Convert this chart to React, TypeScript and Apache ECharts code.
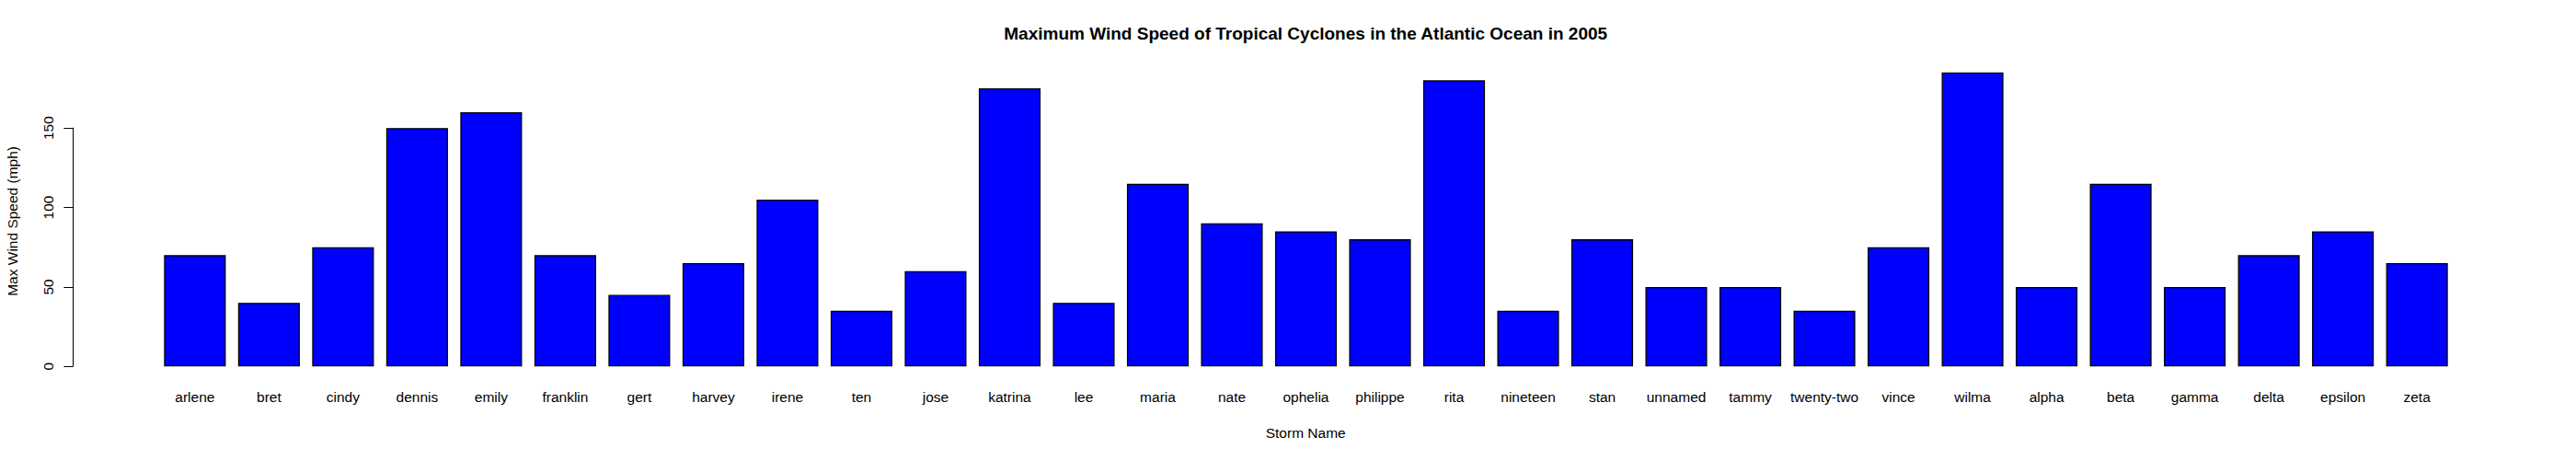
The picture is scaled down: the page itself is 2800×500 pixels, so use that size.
import React, { useEffect, useRef } from "react";
import * as echarts from "echarts";

const storms = [
  "arlene", "bret", "cindy", "dennis", "emily", "franklin", "gert", "harvey",
  "irene", "ten", "jose", "katrina", "lee", "maria", "nate", "ophelia",
  "philippe", "rita", "nineteen", "stan", "unnamed", "tammy", "twenty-two",
  "vince", "wilma", "alpha", "beta", "gamma", "delta", "epsilon", "zeta",
];
const maxWind = [
  70, 40, 75, 150, 160, 70, 45, 65, 105, 35, 60, 175, 40, 115, 90, 85, 80,
  180, 35, 80, 50, 50, 35, 75, 185, 50, 115, 50, 70, 85, 65,
];
const yTicks = [0, 50, 100, 150];

const titleText = "Maximum Wind Speed of Tropical Cyclones in the Atlantic Ocean in 2005";
const xTitle = "Storm Name";
const yTitle = "Max Wind Speed (mph)";

export default function App() {
  const ref = useRef<HTMLDivElement>(null);
  useEffect(() => {
    const chart = echarts.init(ref.current!, null, { renderer: "svg" });
    const font = "'Liberation Sans', Arial, Helvetica, sans-serif";
    const fs = 15.5;
    chart.setOption({
      animation: false,
      backgroundColor: "#ffffff",
      textStyle: { fontFamily: font },
      grid: [
        { left: 171.6, width: 2495.8, top: 78.7, height: 319.6 },
        { left: 79, width: 10, top: 139.1, height: 259.2 },
      ],
      xAxis: [
        {
          type: "category",
          gridIndex: 0,
          data: storms,
          axisLine: { show: false },
          axisTick: { show: false },
          splitLine: { show: false },
          axisLabel: {
            interval: 0,
            margin: 25.5,
            color: "#000",
            fontSize: fs,
            fontFamily: font,
          },
        },
        { type: "value", gridIndex: 1, show: false },
      ],
      yAxis: [
        {
          type: "value",
          gridIndex: 0,
          min: 0,
          max: Math.max(...maxWind),
          show: false,
        },
        {
          type: "value",
          gridIndex: 1,
          min: yTicks[0],
          max: yTicks[yTicks.length - 1],
          interval: yTicks[1] - yTicks[0],
          axisLine: { show: true, lineStyle: { color: "#000", width: 1 } },
          axisTick: { show: true, length: 9.6, lineStyle: { color: "#000", width: 1 } },
          splitLine: { show: false },
          axisLabel: {
            rotate: 90,
            margin: 18.7,
            color: "#000",
            fontSize: fs,
            fontFamily: font,
          },
        },
      ],
      series: [
        {
          type: "bar",
          xAxisIndex: 0,
          yAxisIndex: 0,
          data: maxWind,
          barWidth: 67.1,
          itemStyle: { color: "#0000ff", borderColor: "#000000", borderWidth: 1.3 },
          emphasis: { disabled: true },
        },
      ],
      graphic: [
        {
          type: "text",
          x: 1419.2,
          y: 36.5,
          style: {
            text: titleText,
            fontSize: 19,
            fontWeight: "bold",
            fontFamily: font,
            fill: "#000",
            textAlign: "center",
            textVerticalAlign: "middle",
            align: "center",
            verticalAlign: "middle",
          },
        },
        {
          type: "text",
          x: 1419.2,
          y: 470,
          style: {
            text: xTitle,
            fontSize: fs,
            fontFamily: font,
            fill: "#000",
            textAlign: "center",
            textVerticalAlign: "middle",
            align: "center",
            verticalAlign: "middle",
          },
        },
        {
          type: "text",
          x: 13.5,
          y: 240.4,
          rotation: Math.PI / 2,
          style: {
            text: yTitle,
            fontSize: fs,
            fontFamily: font,
            fill: "#000",
            textAlign: "center",
            textVerticalAlign: "middle",
            align: "center",
            verticalAlign: "middle",
          },
        },
      ],
    });
    return () => chart.dispose();
  }, []);
  return (
    <div
      ref={ref}
      style={{ position: "absolute", left: 0, top: 0, width: 2800, height: 500 }}
    />
  );
}
